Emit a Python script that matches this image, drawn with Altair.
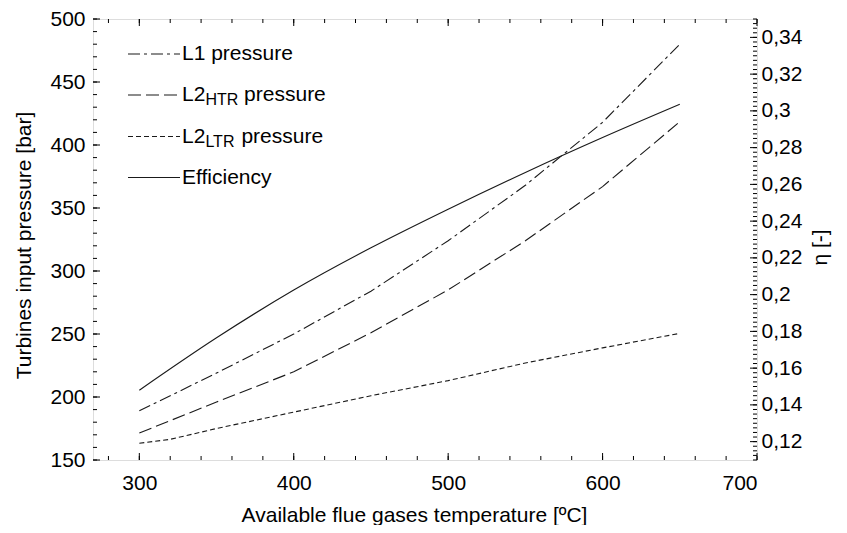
import altair as alt
import pandas as pd
import numpy as np

# ---------------- data ----------------
temps = [300, 350, 400, 450, 500, 550, 600, 650]
l1_pressure = [189, 219, 250, 284, 324, 368, 418, 480]
l2htr_pressure = [171.4, 196, 220, 251, 285, 324, 367, 418.5]
ltr_temps = [300, 320, 350, 400, 450, 500, 550, 600, 650]
l2ltr_pressure = [163.3, 166.4, 175, 188, 201, 213, 227, 239, 250.5]
efficiency = [0.148, 0.1765, 0.2025, 0.2255, 0.2465, 0.2665, 0.2855, 0.3036]

series_names = ["L1 pressure", "L2HTR pressure", "L2LTR pressure"]
x_ticks = [300, 400, 500, 600, 700]
x_minor = list(range(280, 701, 20))
left_ticks = [150, 200, 250, 300, 350, 400, 450, 500]
left_minor = list(range(150, 501, 10))
right_ticks = [0.12, 0.14, 0.16, 0.18, 0.20, 0.22, 0.24, 0.26, 0.28, 0.30, 0.32, 0.34]
right_minor = [round(0.11 + 0.0025 * i, 4) for i in range(97)]

X_DOMAIN = [270, 700]
LEFT_DOMAIN = [150, 500]
RIGHT_DOMAIN = [0.11, 0.35]

W, H = 664, 441
FONT = "Liberation Sans"
FS = 21
INK = "#1a1a1a"

pressure_df = pd.concat([
    pd.DataFrame({"T": temps, "P": l1_pressure, "s": series_names[0]}),
    pd.DataFrame({"T": temps, "P": l2htr_pressure, "s": series_names[1]}),
    pd.DataFrame({"T": ltr_temps, "P": l2ltr_pressure, "s": series_names[2]}),
], ignore_index=True)
eff_df = pd.DataFrame({"T": temps, "eta": efficiency})

xscale = alt.Scale(domain=X_DOMAIN, nice=False, zero=False)
lscale = alt.Scale(domain=LEFT_DOMAIN, nice=False, zero=False)
rscale = alt.Scale(domain=RIGHT_DOMAIN, nice=False, zero=False)

dash_scale = alt.Scale(domain=series_names, range=[[12, 4, 3, 4], [13, 5], [5, 3]])

common = dict(grid=False, ticks=False, tickSize=0, domain=False,
              labelFont=FONT, labelFontSize=FS, labelColor="black",
              titleFont=FONT, titleFontSize=FS, titleFontWeight="normal", titleColor="black")

x_axis = alt.Axis(
    values=x_ticks, title="Available flue gases temperature [ºC]", labelPadding=12,
    titleX=321, titleY=55, titleBaseline="middle", titleAlign="center", orient="bottom", **common
)
left_axis = alt.Axis(
    values=left_ticks, title="Turbines input pressure [bar]", labelPadding=8, orient="left",
    titleX=-69, titleY=226, titleAngle=270, titleBaseline="middle", titleAlign="center", **common
)
right_axis = alt.Axis(
    values=right_ticks, title="η [-]", orient="right", labelPadding=4,
    labelExpr="replace(format(datum.value, '.2~f'), '.', ',')",
    titleX=63, titleY=228, titleAngle=270, titleBaseline="middle", titleAlign="center", **common
)

X = lambda: alt.X("T:Q", scale=xscale, axis=x_axis, title="Available flue gases temperature [ºC]")

pressure_lines = alt.Chart(pressure_df).mark_line(color=INK, strokeWidth=1.1).encode(
    x=X(),
    y=alt.Y("P:Q", scale=lscale, axis=left_axis, title="Turbines input pressure [bar]"),
    strokeDash=alt.StrokeDash("s:N", scale=dash_scale, legend=None),
    detail="s:N",
)

def vticks(values, length, top):
    df = pd.DataFrame({"T": values})
    if top:
        ys = dict(y=alt.value(0), y2=alt.value(length))
    else:
        ys = dict(y=alt.value(H), y2=alt.value(H - length))
    return alt.Chart(df).mark_rule(color="black", strokeWidth=1).encode(x=X(), **ys)

def hticks(values, length, right):
    df = pd.DataFrame({"v": values})
    if right:
        xs = dict(x=alt.value(W), x2=alt.value(W - length))
        y = alt.Y("v:Q", scale=rscale, axis=right_axis, title="η [-]")
    else:
        xs = dict(x=alt.value(0), x2=alt.value(length))
        y = alt.Y("v:Q", scale=lscale, axis=left_axis, title="Turbines input pressure [bar]")
    return alt.Chart(df).mark_rule(color="black", strokeWidth=1).encode(y=y, **xs)

left_group = alt.layer(
    pressure_lines,
    hticks(left_minor, 4, False),
    hticks(left_ticks, 7, False),
    vticks(x_minor, 4, False),
    vticks(x_ticks, 7, False),
    vticks(x_minor, 4, True),
    vticks(x_ticks, 7, True),
)

eff_line = alt.Chart(eff_df).mark_line(color=INK, strokeWidth=1.1, interpolate="monotone").encode(
    x=X(),
    y=alt.Y("eta:Q", scale=rscale, axis=right_axis, title="η [-]"),
)
right_group = alt.layer(
    eff_line,
    hticks(right_minor, 4, True),
    hticks(right_ticks, 7, True),
)

# ---------------- custom legend ----------------
leg_rows = [35, 76, 117.5, 158.5]
leg_dashes = [[12, 4, 3, 4], [13, 5], [5, 3], [1, 0]]
leg_layers = []
for yy, dash in zip(leg_rows, leg_dashes):
    leg_layers.append(
        alt.Chart(pd.DataFrame({"a": [0]})).mark_rule(color=INK, strokeWidth=1.1, strokeDash=dash).encode(
            x=alt.value(35), x2=alt.value(87), y=alt.value(yy))
    )

legend_main = ["L1 pressure", "L2", "L2", "Efficiency"]
legend_sub = ["HTR", "LTR"]
legend_tail = ["pressure", "pressure"]

def txt(s, x, y, size, dy=0):
    return alt.Chart(pd.DataFrame({"t": [s]})).mark_text(
        align="left", baseline="middle", font=FONT, fontSize=size, color="black", dy=dy
    ).encode(text="t:N", x=alt.value(x), y=alt.value(y))

leg_layers.append(txt(legend_main[0], 89, leg_rows[0], FS))
leg_layers.append(txt(legend_main[3], 89, leg_rows[3], FS))
for i, row in enumerate([leg_rows[1], leg_rows[2]]):
    leg_layers.append(txt(legend_main[1 + i], 89, row, FS))
    leg_layers.append(txt(legend_sub[i], 89 + 23.4, row, 16, dy=5))
    sub_w = 32.9 if i == 0 else 30.2
    leg_layers.append(txt(legend_tail[i], 89 + 23.4 + sub_w + 5.8, row, FS))

legend = alt.layer(*leg_layers)

chart = alt.layer(left_group, right_group, legend).resolve_scale(y="independent").properties(
    width=W, height=H,
    autosize=alt.AutoSizeParams(type="none"),
    padding={"left": 85, "top": 11, "right": 82, "bottom": 65},
).configure_view(stroke="black", strokeWidth=1.6).configure(background="white")

chart.save("out.html", embed_options={"renderer": "svg", "actions": False})
